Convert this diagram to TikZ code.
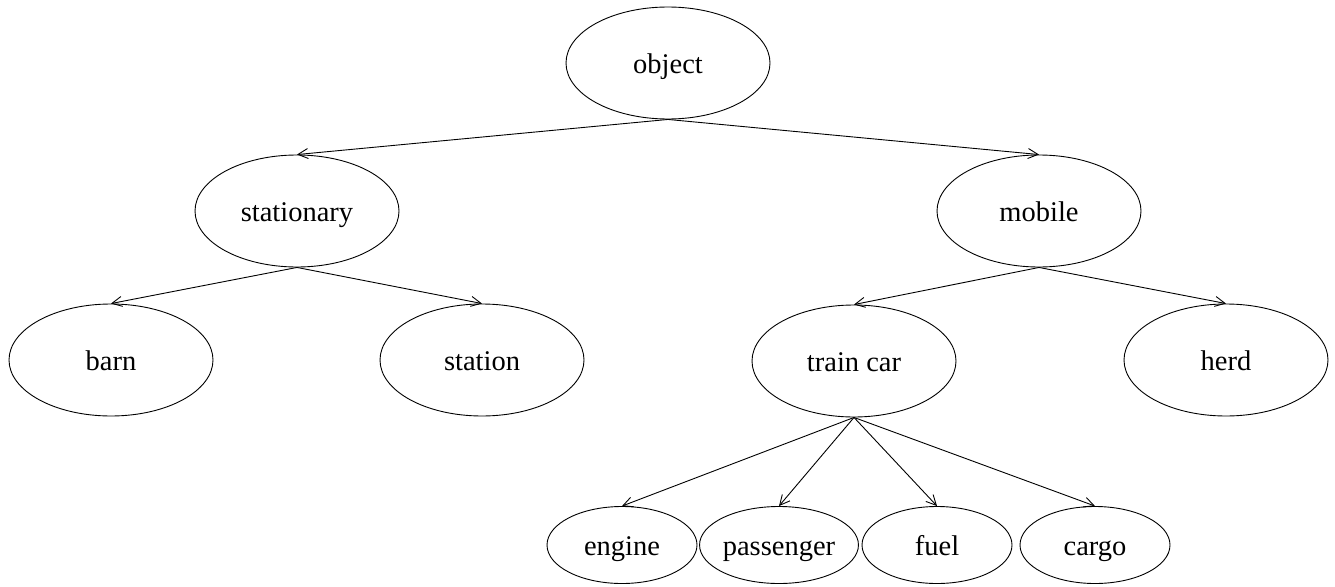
\documentclass[tikz,border=0pt]{standalone}
\usepackage{fontspec}
\setmainfont{Liberation Serif}
\usetikzlibrary{shapes.geometric,arrows.meta}
\begin{document}
\begin{tikzpicture}[x=1pt,y=-1pt,
  label font/.style={font=\fontsize{28.5}{34}\selectfont,text height=25pt,text depth=4pt},
  big/.style={ellipse,draw,line width=0.9pt,inner sep=0pt,minimum width=204pt,minimum height=112pt,label font},
  small/.style={ellipse,draw,line width=0.9pt,inner sep=0pt,minimum width=150pt,minimum height=77pt,label font},
  edge/.style={line width=0.9pt,-{Straight Barb[length=10pt,width=10pt,line width=0.9pt]}}]
\useasboundingbox (0,0) rectangle (1335,586);
% tree nodes
\node[big] (object) at (668,63) {object};
\node[big] (stationary) at (297,211) {stationary};
\node[big] (mobile) at (1039,211) {mobile};
\node[big] (barn) at (111,360) {barn};
\node[big] (station) at (482,360) {station};
\node[big] (train) at (854,361) {train car};
\node[big] (herd) at (1226,360) {herd};
\node[small] (engine) at (622,545) {engine};
\node[small] (passenger) at (779,545) {passenger};
\node[small] (fuel) at (937,545) {fuel};
\node[small] (cargo) at (1095,545) {cargo};
% connectors
\draw[edge] (object.south) -- (stationary.north);
\draw[edge] (object.south) -- (mobile.north);
\draw[edge] (stationary.south) -- (barn.north);
\draw[edge] (stationary.south) -- (station.north);
\draw[edge] (mobile.south) -- (train.north);
\draw[edge] (mobile.south) -- (herd.north);
\draw[edge] (train.south) -- (engine.north);
\draw[edge] (train.south) -- (passenger.north);
\draw[edge] (train.south) -- (fuel.north);
\draw[edge] (train.south) -- (cargo.north);
\end{tikzpicture}
\end{document}
